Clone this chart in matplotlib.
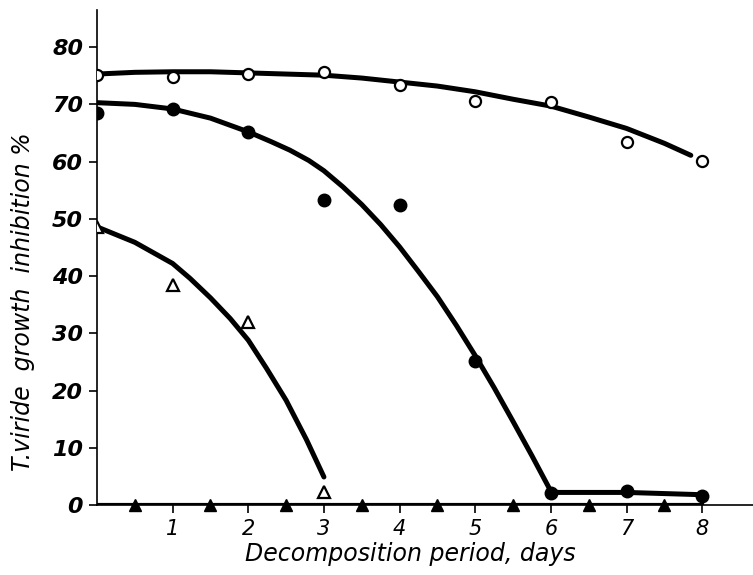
import matplotlib
matplotlib.use("Agg")
import matplotlib.pyplot as plt

# measured data points
days = [0, 1, 2, 3, 4, 5, 6, 7, 8]
open_circles = [75.1, 74.8, 75.3, 75.6, 73.4, 70.6, 70.4, 63.4, 60.1]
filled_circles = [68.5, 69.2, 65.1, 53.3, 52.4, 25.1, 2.1, 2.4, 1.6]
tri_days = [0, 1, 2, 3]
open_triangles = [48.6, 38.4, 32.0, 2.3]
ftri_days = [0.5, 1.5, 2.5, 3.5, 4.5, 5.5, 6.5, 7.5]
filled_triangles = [0, 0, 0, 0, 0, 0, 0, 0]

# hand-drawn fitted curves
oc_curve_x = [0, 0.5, 1, 1.5, 2, 2.5, 3, 3.5, 4, 4.5, 5, 5.5, 6, 6.5, 7, 7.5, 7.85]
oc_curve_y = [75.3, 75.6, 75.7, 75.7, 75.5, 75.3, 75.1, 74.6, 73.9, 73.2, 72.2, 70.9, 69.7, 67.8, 65.8, 63.2, 61.1]
fc_curve_x = [0, 0.5, 1, 1.5, 2, 2.3, 2.55, 2.8, 3.0, 3.25, 3.5, 3.75, 4.0, 4.25, 4.5,
              4.75, 5.0, 5.25, 5.5, 5.75, 6.0, 6.1, 7, 8]
fc_curve_y = [70.3, 70.0, 69.2, 67.6, 65.2, 63.5, 62.0, 60.2, 58.4, 55.6, 52.5, 49.0, 45.1, 40.8, 36.4,
              31.4, 26.1, 20.5, 14.6, 8.6, 2.4, 2.2, 2.2, 1.8]
tr_curve_x = [0, 0.5, 1, 1.23, 1.5, 1.76, 2, 2.24, 2.5, 2.77, 3]
tr_curve_y = [48.6, 45.9, 42.2, 39.6, 36.2, 32.6, 28.8, 23.9, 18.3, 11.4, 4.9]
ft_curve_x = [0, 8]
ft_curve_y = [0, 0]

yticks = [0, 10, 20, 30, 40, 50, 60, 70, 80]
xticks = [1, 2, 3, 4, 5, 6, 7, 8]

fig = plt.figure(figsize=(7.53, 5.75), dpi=100)
ax = fig.add_axes([0.1288, 0.1217, 0.871, 0.861])

lw = 3.6
for cx, cy in [(oc_curve_x, oc_curve_y), (fc_curve_x, fc_curve_y), (tr_curve_x, tr_curve_y)]:
    ax.plot(cx, cy, color="black", lw=lw, solid_capstyle="round", solid_joinstyle="round", zorder=2)
ax.plot(ft_curve_x, ft_curve_y, color="black", lw=3.0, zorder=2)

ax.plot(days, open_circles, "o", ms=8, mfc="white", mec="black", mew=1.6, zorder=3)
ax.plot(days, filled_circles, "o", ms=9, color="black", zorder=3)
ax.plot(tri_days, open_triangles, "^", ms=8, mfc="white", mec="black", mew=1.6, zorder=3)
ax.plot(ftri_days, filled_triangles, "^", ms=8, color="black", zorder=3, clip_on=False)

ax.set_xlim(0, 8.67)
ax.set_ylim(0, 86.5)
ax.spines["top"].set_visible(False)
ax.spines["right"].set_visible(False)
ax.spines["left"].set_linewidth(1.2)
ax.spines["bottom"].set_linewidth(1.2)

ax.set_yticks(yticks)
ax.set_yticklabels([str(v) for v in yticks], fontsize=16, style="italic", fontweight="bold")
ax.set_xticks(xticks)
ax.set_xticklabels([str(v) for v in xticks], fontsize=15, style="italic")
ax.tick_params(axis="both", direction="out", length=6, width=1.2, pad=4)

ax.set_xlabel("Decomposition period, days", fontsize=17, style="italic")
ax.set_ylabel("T.viride  growth  inhibition %", fontsize=17, style="italic")
ax.xaxis.set_label_coords(0.477, -0.075)
ax.yaxis.set_label_coords(-0.095, 0.41)

fig.savefig("out.png", dpi=100)
